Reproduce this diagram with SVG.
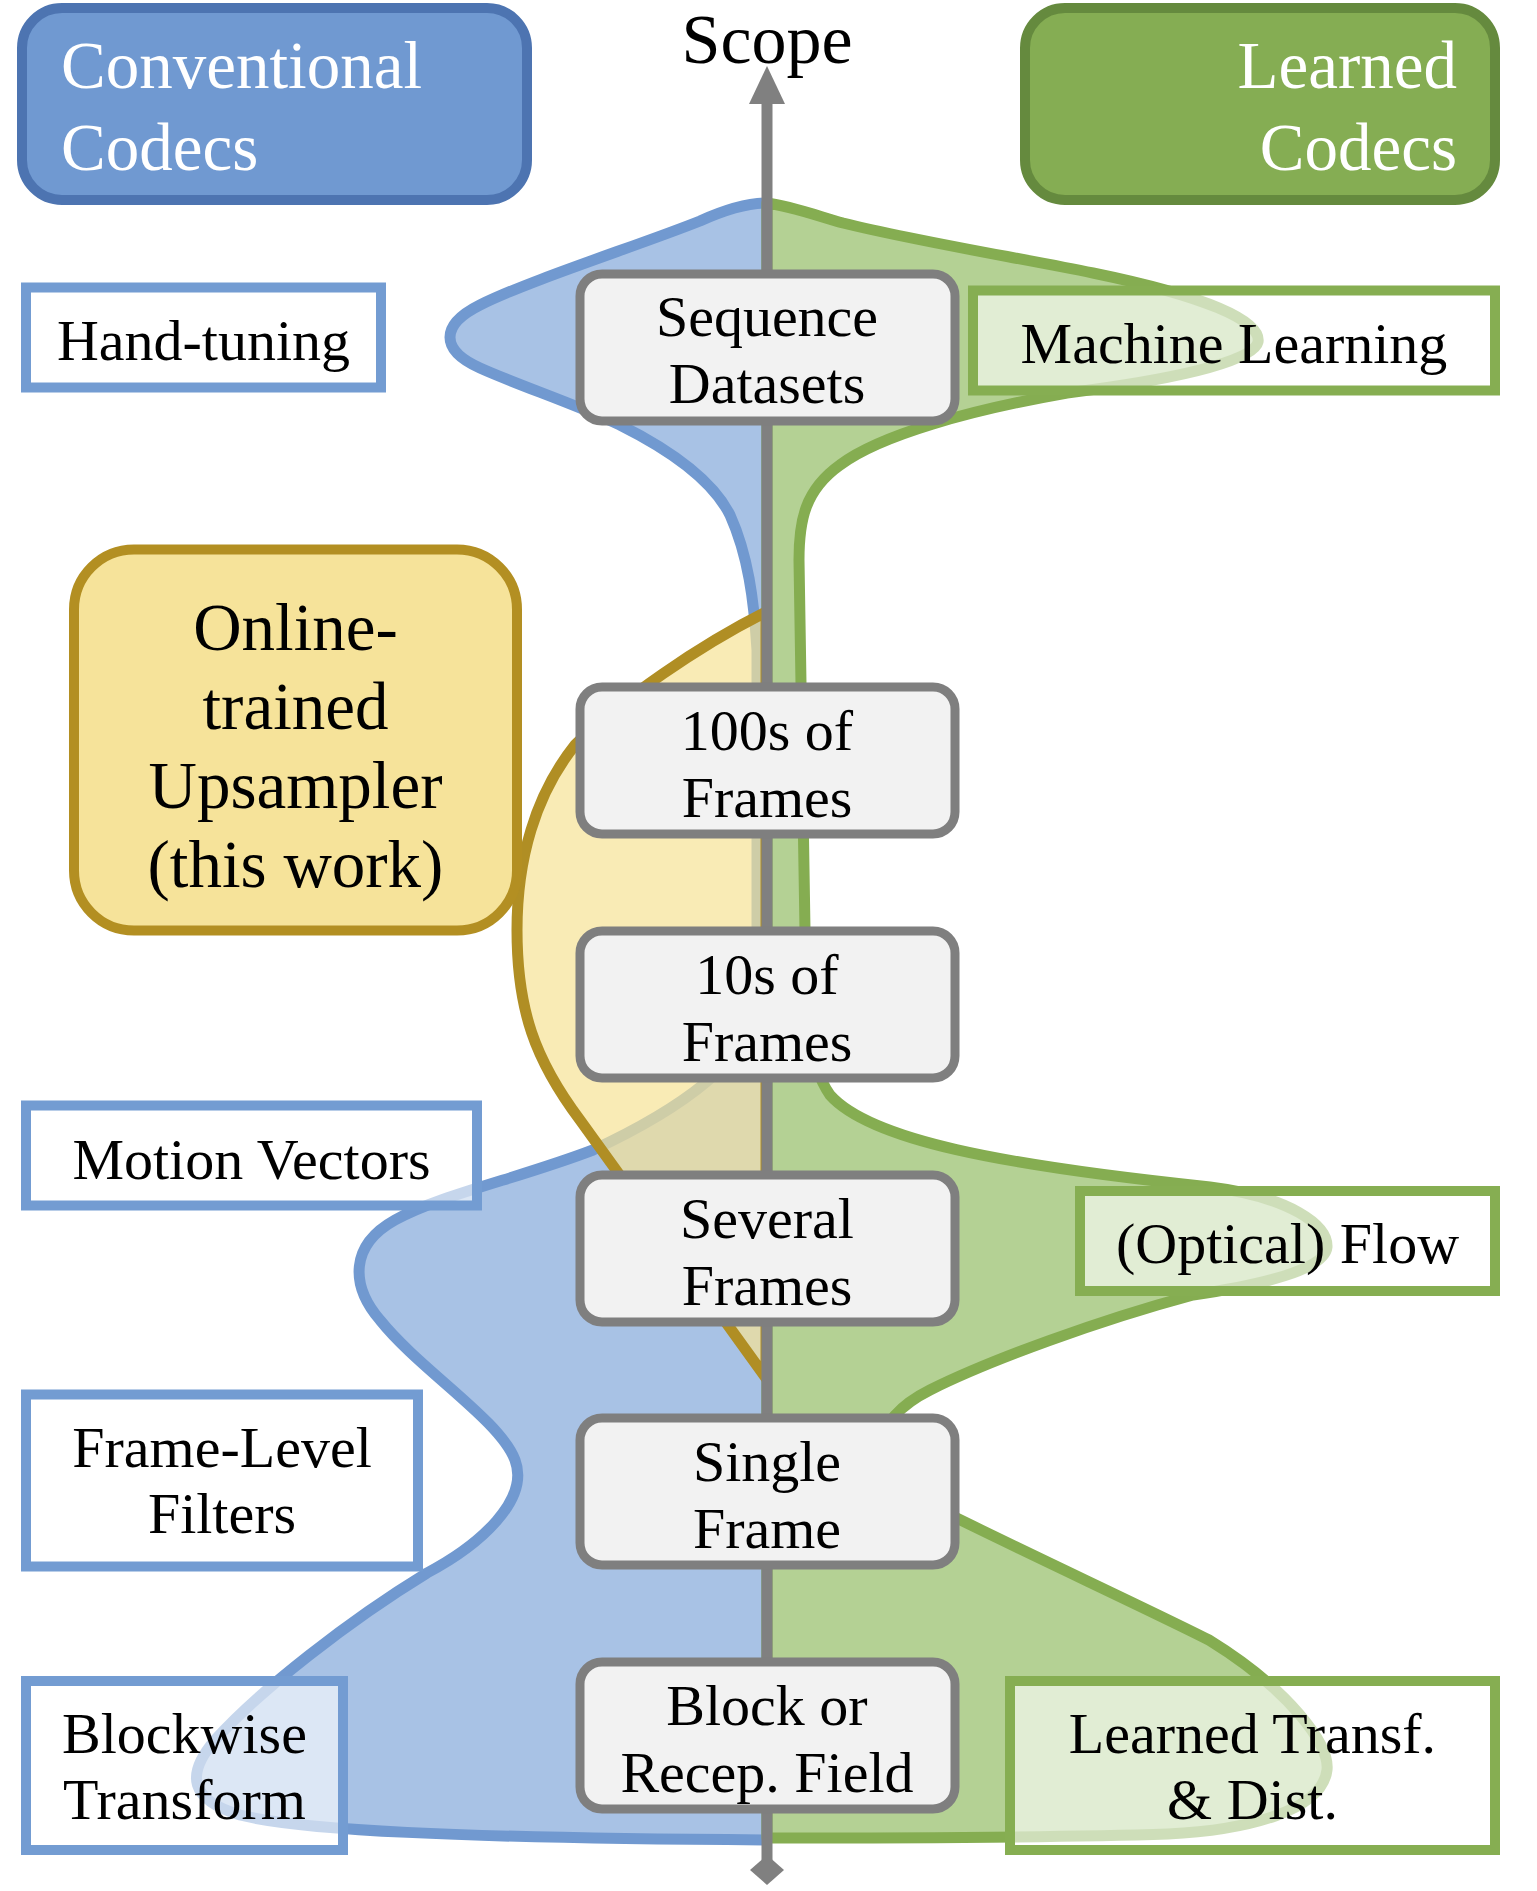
<svg xmlns="http://www.w3.org/2000/svg" width="1537" height="1891" viewBox="0 0 1537 1891">
<style>
text{font-family:"Liberation Serif","Times New Roman",serif;fill:#000}
.hdr{font-size:67px;fill:#fff}
.node rect{fill:#f2f2f2;stroke:#7f7f7f;stroke-width:9}
.node text{font-size:58px;text-anchor:middle}
.lbl rect{fill:#fff;fill-opacity:0.6;stroke-width:10}
.lbl text{font-size:58px;text-anchor:middle}
.lb rect{stroke:#739cd2}
.lg rect{stroke:#86ae52}
</style>
<rect width="1537" height="1891" fill="#fff"/>
<g id="violins">
<path id="violin-conventional" d="M767,203 C745,203 720,212 700,221 C640,245 530,280 480,305 C440,325 440,350 480,368 C520,386 570,402 620,425 C680,455 715,485 730,515 C748,555 754,600 757,650 L757,1000 C755,1050 700,1100 593,1150 C520,1178 440,1195 395,1220 C350,1245 350,1285 380,1320 C420,1370 500,1420 515,1460 C530,1500 480,1545 427,1573 C350,1620 260,1690 215,1740 C185,1775 190,1800 240,1815 C300,1830 450,1838 767,1840 Z" fill="#a8c2e5" stroke="#7199d0" stroke-width="11" stroke-linejoin="round"/>
<path id="violin-learned" d="M767,203 C790,206 815,215 843,223 C920,242 1020,258 1093,273 C1200,295 1262,320 1258,342 C1254,362 1170,380 1067,393 C970,410 880,435 840,465 C805,490 799,520 799,560 L805,930 C806,1000 805,1060 830,1095 C870,1140 1000,1165 1210,1187 C1290,1197 1328,1225 1327,1247 C1325,1270 1260,1285 1193,1295 C1100,1320 990,1360 930,1390 C870,1420 860,1470 920,1500 C1020,1550 1150,1610 1209,1640 C1290,1690 1330,1745 1327,1770 C1322,1810 1250,1830 1168,1834 C1050,1838 900,1838 767,1838 Z" fill="#b4d194" stroke="#85ad51" stroke-width="11" stroke-linejoin="round"/>
<path id="violin-online" d="M766,612 C700,645 620,700 575,745 C535,795 517,860 517,930 C517,1010 535,1060 580,1120 L766,1378 Z" fill="#f6e295" fill-opacity="0.7" stroke="#b08e24" stroke-width="11" stroke-linejoin="round"/>
</g>
<g id="connectors">
<line x1="767" y1="100" x2="767" y2="1860" stroke="#808080" stroke-width="11"/>
<polygon points="767,66 749,104 785,104" fill="#808080"/>
<polygon points="767,1855 784,1870 767,1885 750,1870" fill="#808080"/>
</g>
<text id="scope" x="767" y="63" font-size="70" text-anchor="middle">Scope</text>
<g id="conventional-codecs">
<rect x="22" y="8" width="505" height="192" rx="40" fill="#7099d1" stroke="#4d74b1" stroke-width="10"/>
<text class="hdr" x="61" y="88">Conventional</text>
<text class="hdr" x="61" y="170">Codecs</text>
</g>
<g id="learned-codecs">
<rect x="1025" y="8" width="470" height="192" rx="40" fill="#85ad53" stroke="#658a3e" stroke-width="10"/>
<text class="hdr" x="1457" y="88" text-anchor="end">Learned</text>
<text class="hdr" x="1457" y="170" text-anchor="end">Codecs</text>
</g>
<g id="online-upsampler">
<rect x="74" y="549.5" width="443" height="381" rx="60" fill="#f6e39a" stroke="#b38f22" stroke-width="10"/>
<text x="295.5" y="650" font-size="67" text-anchor="middle">Online-</text>
<text x="295.5" y="729" font-size="67" text-anchor="middle">trained</text>
<text x="295.5" y="808" font-size="67" text-anchor="middle">Upsampler</text>
<text x="295.5" y="887" font-size="67" text-anchor="middle">(this work)</text>
</g>
<g id="sequence-datasets" class="node"><rect x="580" y="274" width="375" height="147" rx="22"/><text x="767" y="336">Sequence</text><text x="767" y="403">Datasets</text></g>
<g id="hundreds-of-frames" class="node"><rect x="580" y="687" width="375" height="147" rx="22"/><text x="767" y="750">100s of</text><text x="767" y="817">Frames</text></g>
<g id="tens-of-frames" class="node"><rect x="580" y="931" width="375" height="147" rx="22"/><text x="767" y="994">10s of</text><text x="767" y="1061">Frames</text></g>
<g id="several-frames" class="node"><rect x="580" y="1175" width="375" height="147" rx="22"/><text x="767" y="1238">Several</text><text x="767" y="1305">Frames</text></g>
<g id="single-frame" class="node"><rect x="580" y="1418" width="375" height="147" rx="22"/><text x="767" y="1481">Single</text><text x="767" y="1548">Frame</text></g>
<g id="block-field" class="node"><rect x="580" y="1662" width="375" height="147" rx="22"/><text x="767" y="1725">Block or</text><text x="767" y="1792">Recep. Field</text></g>
<g id="hand-tuning" class="lbl lb"><rect x="26" y="287.5" width="355" height="100"/><text x="203.5" y="360">Hand-tuning</text></g>
<g id="machine-learning" class="lbl lg"><rect x="973" y="290.5" width="522" height="100"/><text x="1234" y="363">Machine Learning</text></g>
<g id="motion-vectors" class="lbl lb"><rect x="26" y="1105.5" width="451" height="100"/><text x="251.5" y="1179">Motion Vectors</text></g>
<g id="optical-flow" class="lbl lg"><rect x="1080" y="1191" width="415" height="100"/><text x="1287.5" y="1263">(Optical) Flow</text></g>
<g id="frame-level-filters" class="lbl lb"><rect x="26" y="1394.5" width="392" height="172"/><text x="222" y="1467">Frame-Level</text><text x="222" y="1533">Filters</text></g>
<g id="blockwise-transform" class="lbl lb"><rect x="26" y="1681" width="317" height="169"/><text x="184.5" y="1753">Blockwise</text><text x="184.5" y="1819">Transform</text></g>
<g id="learned-transform" class="lbl lg"><rect x="1010" y="1681" width="485" height="169"/><text x="1252.5" y="1753">Learned Transf.</text><text x="1252.5" y="1819">&amp; Dist.</text></g>
</svg>
